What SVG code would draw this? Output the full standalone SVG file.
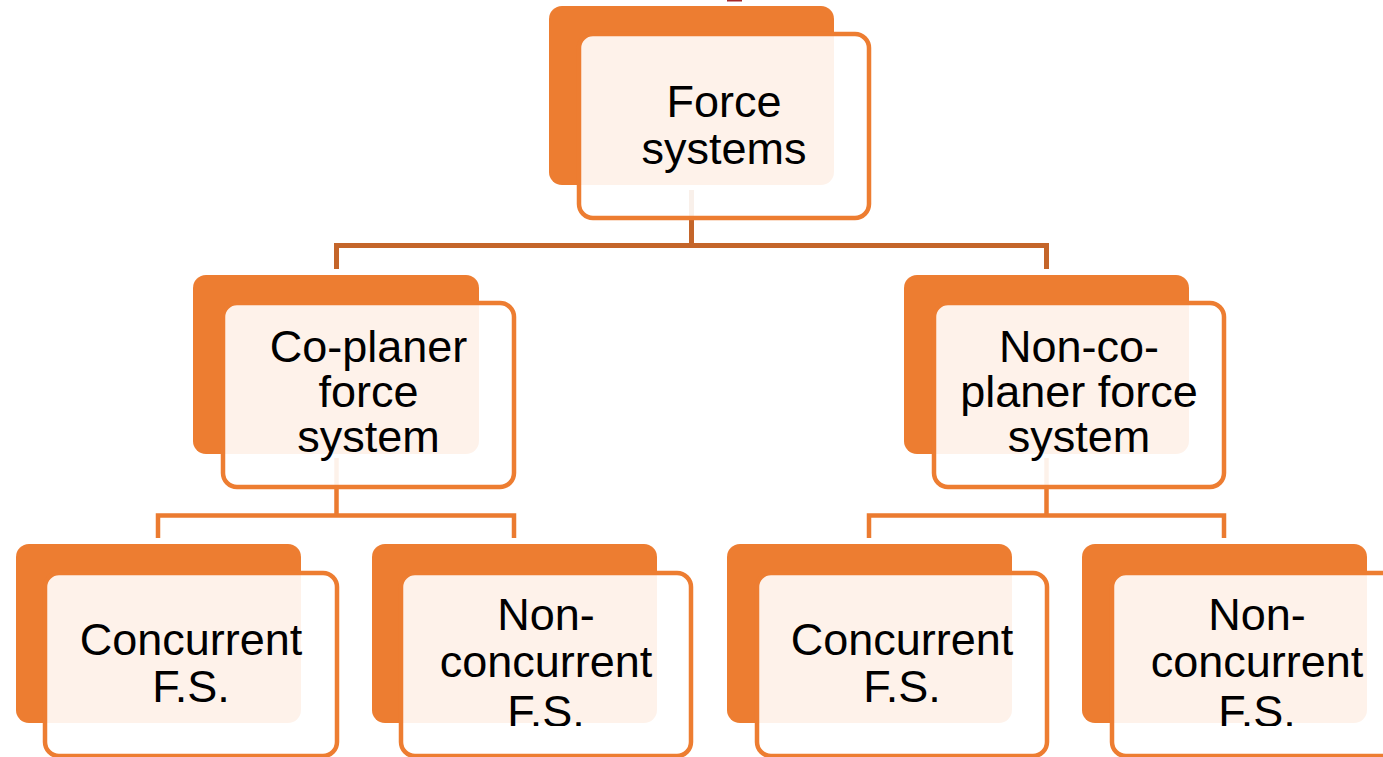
<svg xmlns="http://www.w3.org/2000/svg" width="1383" height="757" viewBox="0 0 1383 757">
  <defs>
    <style>
      .back { fill: #ED7D31; }
      .front { fill: #FFFFFF; fill-opacity: 0.9; stroke: #ED7D31; stroke-width: 4.5; }
      .lbl { font-family: "Liberation Sans", Arial, sans-serif; font-size: 45px; fill: #000000; text-anchor: middle; }
      .c1 { fill: none; stroke: #C4652A; stroke-width: 5; }
      .c2 { fill: none; stroke: #EB7B30; stroke-width: 4.5; }
    </style>
    <clipPath id="clipNC2"><rect x="372" y="544" width="330" height="182"/></clipPath>
    <clipPath id="clipNC4"><rect x="1082" y="544" width="330" height="182"/></clipPath>
  </defs>
  <rect x="727" y="0" width="15" height="1.5" fill="#A5282A"/>
  <g id="connectors">
    <path class="c1" d="M691.5 190 V245.5 M336.5 269 V245.5 H1046.5 V269"/>
    <path class="c2" d="M336.5 458 V515.5 M158 538 V515.5 H514 V538"/>
    <path class="c2" d="M1046.5 458 V515.5 M869 538 V515.5 H1224 V538"/>
  </g>
  <g id="node-force-systems">
    <rect class="back" x="549" y="6" width="285" height="179" rx="13"/>
    <rect class="front" x="579" y="34" width="290" height="184" rx="14"/>
    <text class="lbl"><tspan x="724" y="117">Force</tspan><tspan x="724" y="164">systems</tspan></text>
  </g>
  <g id="node-coplaner">
    <rect class="back" x="193" y="275" width="286" height="179" rx="13"/>
    <rect class="front" x="223" y="303" width="291" height="184" rx="14"/>
    <text class="lbl"><tspan x="368.5" y="362">Co-planer</tspan><tspan x="368.5" y="407">force</tspan><tspan x="368.5" y="452">system</tspan></text>
  </g>
  <g id="node-noncoplaner">
    <rect class="back" x="904" y="275" width="285" height="179" rx="13"/>
    <rect class="front" x="934" y="303" width="290" height="184" rx="14"/>
    <text class="lbl"><tspan x="1079" y="362">Non-co-</tspan><tspan x="1079" y="407">planer force</tspan><tspan x="1079" y="452">system</tspan></text>
  </g>
  <g id="node-concurrent-1">
    <rect class="back" x="16" y="544" width="285" height="179" rx="13"/>
    <rect class="front" x="45" y="573" width="292" height="183" rx="14"/>
    <text class="lbl"><tspan x="191" y="655">Concurrent</tspan><tspan x="191" y="702">F.S.</tspan></text>
  </g>
  <g id="node-nonconcurrent-1">
    <rect class="back" x="372" y="544" width="285" height="179" rx="13"/>
    <rect class="front" x="401" y="573" width="290" height="183" rx="14"/>
    <text class="lbl" clip-path="url(#clipNC2)"><tspan x="546" y="630">Non-</tspan><tspan x="546" y="677">concurrent</tspan><tspan x="546" y="727">F.S.</tspan></text>
  </g>
  <g id="node-concurrent-2">
    <rect class="back" x="727" y="544" width="285" height="179" rx="13"/>
    <rect class="front" x="757" y="573" width="290" height="183" rx="14"/>
    <text class="lbl"><tspan x="902" y="655">Concurrent</tspan><tspan x="902" y="702">F.S.</tspan></text>
  </g>
  <g id="node-nonconcurrent-2">
    <rect class="back" x="1082" y="544" width="285" height="179" rx="13"/>
    <rect class="front" x="1112" y="573" width="290" height="183" rx="14"/>
    <text class="lbl" clip-path="url(#clipNC4)"><tspan x="1257" y="630">Non-</tspan><tspan x="1257" y="677">concurrent</tspan><tspan x="1257" y="727">F.S.</tspan></text>
  </g>
</svg>
